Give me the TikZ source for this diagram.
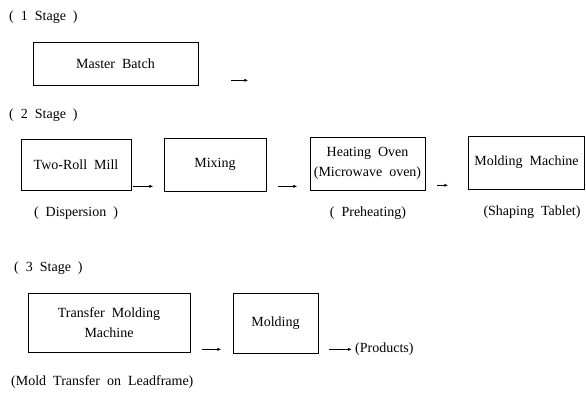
\documentclass[tikz,border=0pt]{standalone}
\usepackage{fontspec}
\setmainfont{Liberation Serif}
\usetikzlibrary{
	arrows.meta,
	calc,
	positioning,
}
\newcommand{\widespace}{\spaceskip=0.5em\relax}
\tikzset{stage box/.style={draw,rectangle,inner sep=0mm,line width=0.7pt,align=center,}}
\tikzset{plain/.style={draw=none,inner sep=1pt,}}
\tikzset{step arrow/.style={-{Latex[length=4pt,width=3.2pt]},line width=0.8pt,}}
\tikzset{
	x=1pt,
	y=1pt,
}

\begin{document}
\begin{tikzpicture}[every node/.style={font=\fontsize{14}{20}\selectfont\widespace}]

\useasboundingbox (0,0) rectangle (586,395);

% stage titles
\node[plain,anchor=west](st1) at(8,378){( 1 Stage )};
\node[plain,anchor=west](st2) at(8,280){( 2 Stage )};
\node[plain,anchor=west](st3) at(13,127){( 3 Stage )};

% boxes
\node[stage box,minimum width=165,minimum height=43](master) at(115.5,331.5){Master Batch};
\node[stage box,minimum width=110,minimum height=51](mill) at(76,230.5){Two-Roll Mill};
\node[stage box,minimum width=102,minimum height=53](mixing) at(215,230.5){Mixing};
\node[stage box,minimum width=115,minimum height=53](oven) at(367.5,231.5){Heating Oven\\(Microwave oven)};
\node[stage box,minimum width=116,minimum height=53](machine) at(526.5,232.5){Molding Machine};
\node[stage box,minimum width=162,minimum height=59](transfer) at(109,72.5){Transfer Molding\\Machine};
\node[stage box,minimum width=85,minimum height=60](molding) at(275.5,72){Molding};

% notes under boxes
\node[plain](disp) at(76,182){( Dispersion )};
\node[plain](preh) at(368,182){( Preheating)};
\node[plain](shape) at(532,183){(Shaping Tablet)};
\node[plain,anchor=west](lead) at(10,13){(Mold Transfer on Leadframe)};
\node[plain,anchor=west,inner sep=3pt](prod) at(352,46){(Products)};

% arrows
\foreach \n/\dx/\dy/\l in {master/33/5/17,mill/2/4/20,mixing/12/5/19,oven/12/5/11,transfer/12/3/19}{
	\draw[step arrow] ([shift={(\dx,\dy)}]\n.south east) -- +(\l,0);
}
\draw[step arrow] ([shift={(11,4)}]molding.south east) -- (prod.west |- {$(molding.south east)+(0,4)$});

\end{tikzpicture}
\end{document}
